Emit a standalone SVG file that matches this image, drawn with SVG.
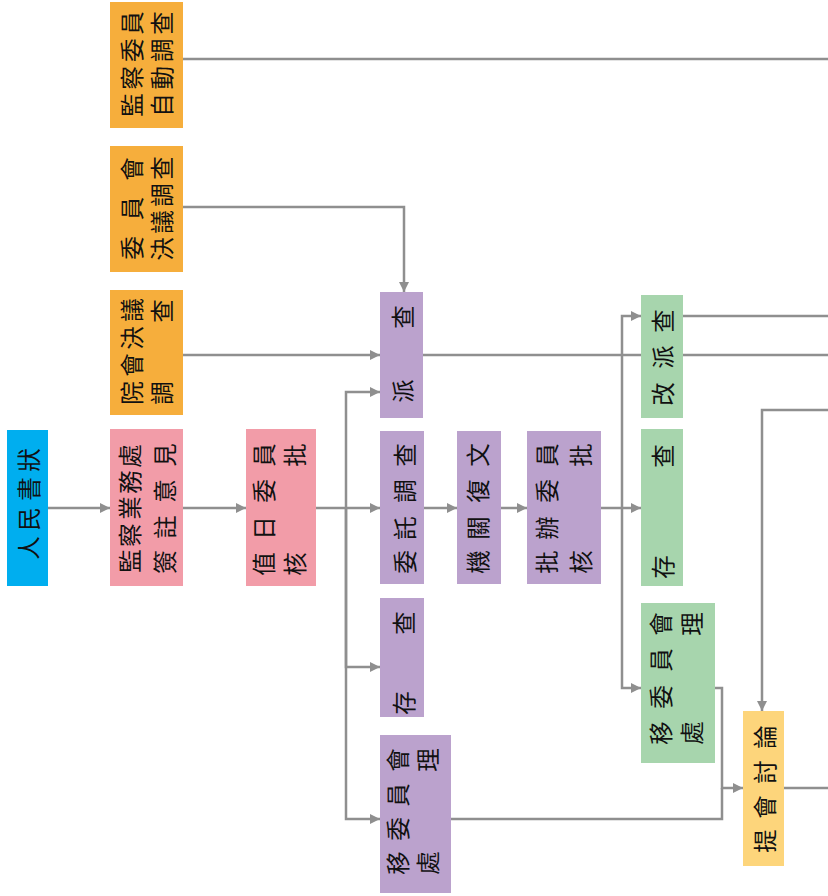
<svg xmlns="http://www.w3.org/2000/svg" width="828" height="896" viewBox="0 0 828 896">
<defs>
<marker id="ah" markerUnits="userSpaceOnUse" markerWidth="10" markerHeight="10" refX="10" refY="5" orient="auto">
<path d="M0,0 L10,5 L0,10 z" fill="#8f8f8f"/>
</marker>
<style>
.c{fill:none;stroke:#8f8f8f;stroke-width:2.5}
.a{marker-end:url(#ah)}
.t{font-family:"Noto Sans CJK TC","Noto Sans CJK SC",sans-serif;font-size:23.5px;fill:#111;text-anchor:middle;dominant-baseline:central}
.or{fill:#f6ae3c}.pk{fill:#f29ca8}.bl{fill:#00aeef}.pu{fill:#bba2cd}.gr{fill:#a7d5ad}.ye{fill:#fdd57b}
</style>
</defs>
<rect width="828" height="896" fill="#fff"/>
<g id="connectors">
<path class="c" d="M183,59 H828"/>
<path class="c a" d="M183,207 H404 V292"/>
<path class="c a" d="M183,355 H380"/>
<path class="c a" d="M48,508 H110"/>
<path class="c a" d="M183,508 H246"/>
<path class="c a" d="M316,508 H380"/>
<path class="c a" d="M346,508 V392 H380"/>
<path class="c a" d="M346,508 V667 H380"/>
<path class="c a" d="M346,508 V819 H380"/>
<path class="c a" d="M424,508 H457"/>
<path class="c a" d="M501,508 H527"/>
<path class="c a" d="M601,508 H641"/>
<path class="c a" d="M622,508 V316 H641"/>
<path class="c a" d="M622,508 V688 H641"/>
<path class="c" d="M423,355 H828"/>
<path class="c" d="M683,316 H828"/>
<path class="c a" d="M715,688 H722 V788 H743"/>
<path class="c" d="M451,819 H722 V788"/>
<path class="c a" d="M828,410 H762 V711"/>
<path class="c" d="M784,788 H828"/>
</g>
<g id="n1"><rect class="or" x="110" y="2" width="73" height="126"/>
<text class="t" transform="rotate(-90)" x="-105 -77.7 -50.3 -23" y="131">監察委員</text>
<text class="t" transform="rotate(-90)" x="-105 -77.7 -50.3 -23" y="161">自動調查</text></g>
<g id="n2"><rect class="or" x="110" y="146" width="73" height="126"/>
<text class="t" transform="rotate(-90)" x="-248 -208.5 -169" y="131">委員會</text>
<text class="t" transform="rotate(-90)" x="-249 -222 -195 -168" y="161">決議調查</text></g>
<g id="n3"><rect class="or" x="110" y="290" width="73" height="125"/>
<text class="t" transform="rotate(-90)" x="-393 -365 -338 -310" y="131">院會決議</text>
<text class="t" transform="rotate(-90)" x="-393 -311" y="161">調查</text></g>
<g id="n4"><rect class="bl" x="7" y="430" width="41" height="156"/>
<text class="t" transform="rotate(-90)" x="-548 -519 -489 -460" y="27.5">人民書狀</text></g>
<g id="n5"><rect class="pk" x="110" y="429" width="73" height="157"/>
<text class="t" transform="rotate(-90)" x="-561 -535 -508 -482 -456" y="129">監察業務處</text>
<text class="t" transform="rotate(-90)" x="-562 -527 -491 -455" y="164">簽註意見</text></g>
<g id="n6"><rect class="pk" x="246" y="429" width="70" height="157"/>
<text class="t" transform="rotate(-90)" x="-564 -528 -491 -455" y="263">值日委員</text>
<text class="t" transform="rotate(-90)" x="-564 -455" y="294">核批</text></g>
<g id="n7"><rect class="pu" x="380" y="292" width="43" height="126"/>
<text class="t" transform="rotate(-90)" x="-391 -317" y="402">派查</text></g>
<g id="n8"><rect class="pu" x="380" y="431" width="44" height="153"/>
<text class="t" transform="rotate(-90)" x="-562 -528 -491 -455" y="404">委託調查</text></g>
<g id="n9"><rect class="pu" x="457" y="431" width="44" height="153"/>
<text class="t" transform="rotate(-90)" x="-562 -528 -491 -455" y="477">機關復文</text></g>
<g id="n10"><rect class="pu" x="527" y="431" width="74" height="153"/>
<text class="t" transform="rotate(-90)" x="-562 -528 -491 -455" y="546">批辦委員</text>
<text class="t" transform="rotate(-90)" x="-562 -455" y="580">核批</text></g>
<g id="n11"><rect class="gr" x="641" y="295" width="42" height="123"/>
<text class="t" transform="rotate(-90)" x="-394 -357 -321" y="662">改派查</text></g>
<g id="n12"><rect class="gr" x="641" y="429" width="42" height="157"/>
<text class="t" transform="rotate(-90)" x="-567 -456" y="662">存查</text></g>
<g id="n13"><rect class="gr" x="641" y="603" width="74" height="160"/>
<text class="t" transform="rotate(-90)" x="-733 -697 -660 -624" y="660">移委員會</text>
<text class="t" transform="rotate(-90)" x="-733 -624" y="691">處理</text></g>
<g id="n14"><rect class="pu" x="380" y="598" width="44" height="119"/>
<text class="t" transform="rotate(-90)" x="-703 -623" y="403">存查</text></g>
<g id="n15"><rect class="pu" x="380" y="735" width="71" height="158"/>
<text class="t" transform="rotate(-90)" x="-863 -829 -795 -760" y="397">移委員會</text>
<text class="t" transform="rotate(-90)" x="-863 -760" y="427">處理</text></g>
<g id="n16"><rect class="ye" x="743" y="711" width="41" height="155"/>
<text class="t" transform="rotate(-90)" x="-841 -807 -772 -737" y="764">提會討論</text></g>
</svg>
